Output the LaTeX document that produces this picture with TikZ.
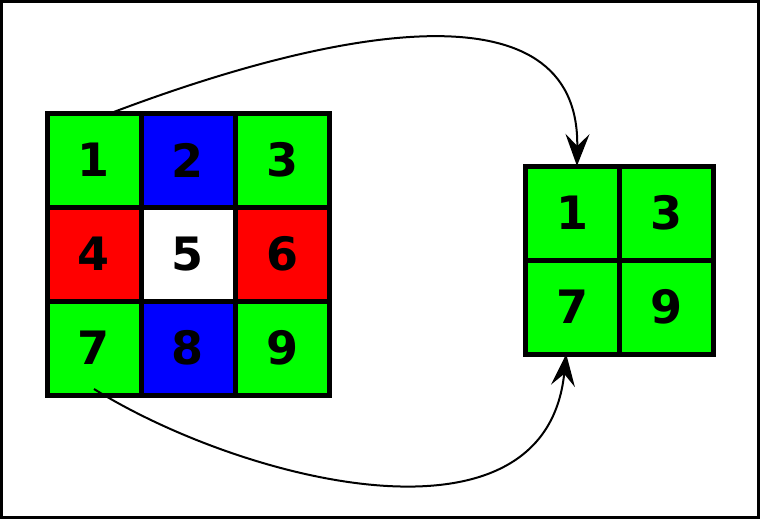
\documentclass[tikz,border=0pt]{standalone}
\usepackage{fontspec}
\setmainfont{DejaVu Sans}
\usetikzlibrary{arrows.meta}
\definecolor{cg}{HTML}{00FF00}
\definecolor{cb}{HTML}{0000FF}
\definecolor{cr}{HTML}{FF0000}
\begin{document}
\begin{tikzpicture}[x=1pt,y=-1pt,
  cell/.style={draw=black,line width=5pt,minimum size=94pt,inner sep=0pt,outer sep=0pt,font=\fontsize{46}{50}\selectfont\bfseries,text=black},
  link/.style={line width=2pt,-{Stealth[length=32pt,width=24pt,inset=12pt]}}]
\useasboundingbox (0,0) rectangle (760,519);
\draw[line width=3pt] (1.5,1.5) rectangle (758.5,517.5);
% left grid
\node[cell,fill=cg] (a1) at (94,160) {1};
\node[cell,fill=cb] (a2) at (188,160) {2};
\node[cell,fill=cg] (a3) at (282,160) {3};
\node[cell,fill=cr] (a4) at (94,254) {4};
\node[cell,fill=white] (a5) at (188,254) {5};
\node[cell,fill=cr] (a6) at (282,254) {6};
\node[cell,fill=cg] (a7) at (94,348) {7};
\node[cell,fill=cb] (a8) at (188,348) {8};
\node[cell,fill=cg] (a9) at (282,348) {9};
% right grid
\node[cell,fill=cg] (b1) at (572,213) {1};
\node[cell,fill=cg] (b3) at (666,213) {3};
\node[cell,fill=cg] (b7) at (572,307) {7};
\node[cell,fill=cg] (b9) at (666,307) {9};
% arrows
\draw[link] (a1.70) .. controls (330,30) and (580,-20) .. (b1.84);
\draw[link] ([yshift=6pt]a7.south) .. controls (240,480) and (545,560) .. (b7.263);
\end{tikzpicture}
\end{document}
